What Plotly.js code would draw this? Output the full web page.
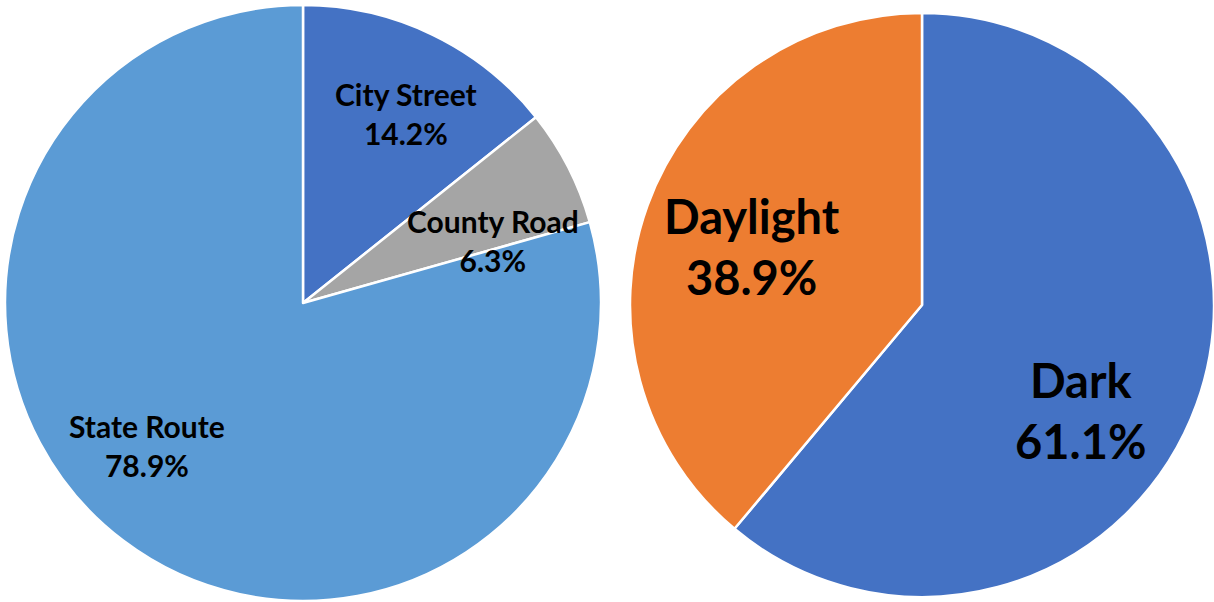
<!DOCTYPE html>
<html>
<head>
<meta charset="utf-8">
<script src="https://cdn.plot.ly/plotly-3.0.1.min.js"></script>
<style>html,body{margin:0;padding:0;background:#fff;}#chart{width:1214px;height:602px;}</style>
</head>
<body>
<div id="chart"></div>
<script>
// Data
const roadLabels = ['City Street', 'County Road', 'State Route'];
const roadValues = [14.2, 6.3, 78.9];
const lightLabels = ['Dark', 'Daylight'];
const lightValues = [61.1, 38.9];

// Styles
const roadColors = ['#4472C4', '#A5A5A5', '#5B9BD5'];
const lightColors = ['#4472C4', '#ED7D31'];
const W = 1214, H = 602;
const leftDom = {x: [5 / W, 601 / W], y: [1 / H, 597 / H]};
const rightDom = {x: [630 / W, 1 / 1], y: [5 / H, 589 / H]};
// label placement: angle (deg clockwise from 12 o'clock), radial fraction
const roadPlace = [[28.5, 0.725], [71.7, 0.67], [227.7, 0.71]];
const lightPlace = [[123.6, 0.65], [289, 0.616]];
const FONT = 'Lato, "Open Sans", sans-serif';

function labelAnn(dom, place, text, size) {
  const cx = (dom.x[0] + dom.x[1]) / 2 * W;
  const cy = (dom.y[0] + dom.y[1]) / 2 * H;
  const r = Math.min((dom.x[1] - dom.x[0]) * W, (dom.y[1] - dom.y[0]) * H) / 2;
  const a = place[0] * Math.PI / 180;
  const px = cx + r * place[1] * Math.sin(a);
  const py = cy + r * place[1] * Math.cos(a);
  return {
    xref: 'paper', yref: 'paper', x: px / W, y: py / H,
    xanchor: 'center', yanchor: 'middle', showarrow: false,
    text: '<b>' + text + '</b>', align: 'center',
    font: {family: FONT, size: size, color: '#000'}
  };
}

const annotations = [];
roadLabels.forEach((l, i) => annotations.push(labelAnn(leftDom, roadPlace[i], l + '<br>' + roadValues[i].toFixed(1) + '%', 30)));
lightLabels.forEach((l, i) => annotations.push(labelAnn(rightDom, lightPlace[i], l + '<br>' + lightValues[i].toFixed(1) + '%', 47)));

const traces = [
  {
    type: 'pie', labels: roadLabels, values: roadValues, sort: false,
    direction: 'clockwise', rotation: 0, textinfo: 'none', hoverinfo: 'label+percent',
    marker: {colors: roadColors, line: {color: '#fff', width: 2.5}},
    domain: leftDom
  },
  {
    type: 'pie', labels: lightLabels, values: lightValues, sort: false,
    direction: 'clockwise', rotation: 0, textinfo: 'none', hoverinfo: 'label+percent',
    marker: {colors: lightColors, line: {color: '#fff', width: 2.5}},
    domain: rightDom
  }
];

Plotly.newPlot('chart', traces, {
  width: W, height: H,
  margin: {l: 0, r: 0, t: 0, b: 0},
  paper_bgcolor: '#fff', plot_bgcolor: '#fff',
  showlegend: false,
  annotations: annotations,
  font: {family: FONT}
}, {displayModeBar: false, staticPlot: true});
</script>
</body>
</html>
